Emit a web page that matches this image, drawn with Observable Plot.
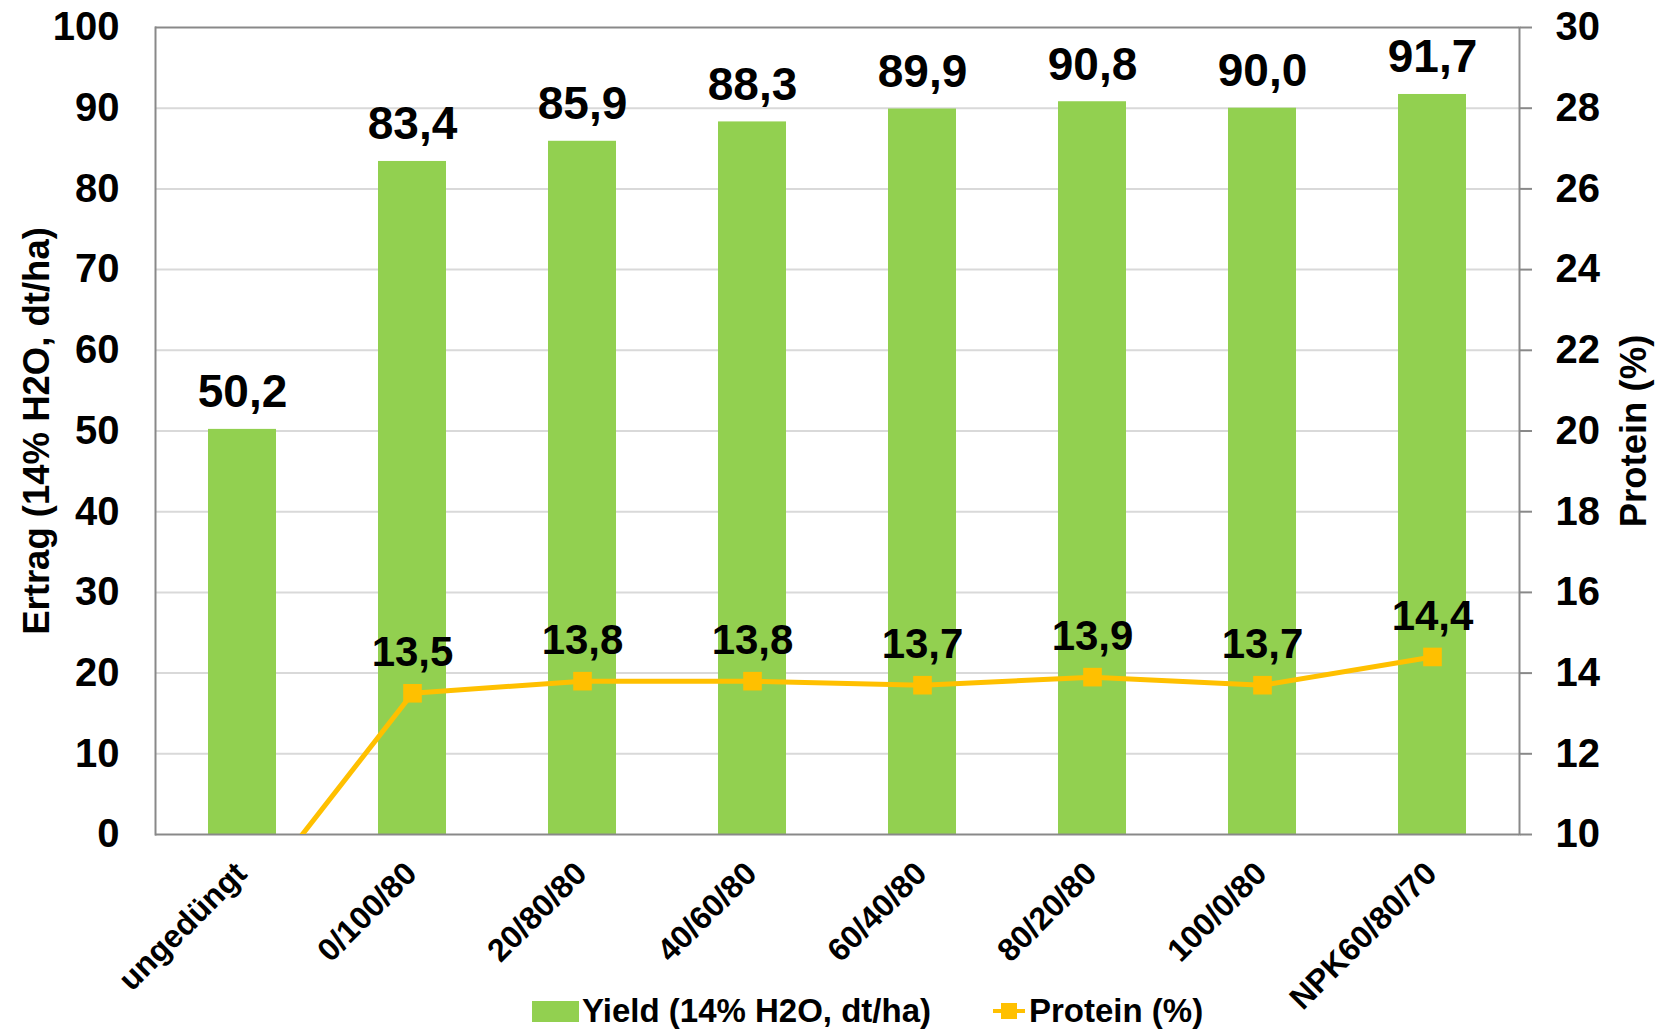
<!DOCTYPE html>
<html>
<head>
<meta charset="utf-8">
<script src="https://cdn.jsdelivr.net/npm/d3@7"></script>
<script src="https://cdn.jsdelivr.net/npm/@observablehq/plot@0.6"></script>
<style>
  body { margin: 0; background: #fff; font-family: "Liberation Sans", Arial, sans-serif; }
  #wrap { position: relative; width: 1663px; height: 1033px; overflow: hidden; }
  #legend { position: absolute; left: 0; top: 980px; width: 1663px; height: 53px; font-weight: bold; font-size: 33px; color: #000; }
  .sw { position: absolute; }
  .lt { position: absolute; line-height: 1; white-space: nowrap; }
</style>
</head>
<body>
<div id="wrap">
  <div id="chart"></div>
  <div id="legend"></div>
</div>
<script>
// ---- data ----
const categories = ["ungedüngt", "0/100/80", "20/80/80", "40/60/80", "60/40/80", "80/20/80", "100/0/80", "NPK60/80/70"];
const yieldValues = [50.2, 83.4, 85.9, 88.3, 89.9, 90.8, 90.0, 91.7];
const proteinValues = [8.1, 13.5, 13.8, 13.8, 13.7, 13.9, 13.7, 14.4];
const yieldTicks = [0, 10, 20, 30, 40, 50, 60, 70, 80, 90, 100];
const proteinTicks = [10, 12, 14, 16, 18, 20, 22, 24, 26, 28, 30];
const seriesNames = ["Yield (14% H2O, dt/ha)", "Protein (%)"];
const axisTitles = ["Ertrag (14% H2O, dt/ha)", "Protein (%)"];

const GREEN = "#92D050", ORANGE = "#FFC000", AXIS = "#898989", GRID = "#d9d9d9";

// secondary axis (protein 10–30) mapped onto primary domain (0–100)
const pMin = proteinTicks[0], pMax = proteinTicks[proteinTicks.length - 1];
const yMax = yieldTicks[yieldTicks.length - 1];
const toLeft = p => (p - pMin) / (pMax - pMin) * yMax;
const fromLeft = v => pMin + v / yMax * (pMax - pMin);
const fmt = v => v.toFixed(1).replace(".", ",");

const data = categories.map((c, i) => ({ cat: c, yield: yieldValues[i], protein: proteinValues[i] }));

const plot = Plot.plot({
  width: 1663,
  height: 980,
  marginLeft: 155,
  marginRight: 144,
  marginTop: 27,
  marginBottom: 146,
  style: { fontFamily: "'Liberation Sans', Arial, sans-serif", fontWeight: "bold", color: "#000", background: "#fff", overflow: "visible" },
  x: { domain: categories, paddingInner: 0.6, paddingOuter: 0.3, axis: null },
  y: { domain: [0, yMax], axis: null },
  marks: [
    Plot.gridY(yieldTicks.filter(t => t > 0 && t < yMax), { stroke: GRID, strokeOpacity: 1, strokeWidth: 2 }),
    Plot.ruleY([yMax], { stroke: AXIS, strokeWidth: 2 }),
    Plot.barY(data, { x: "cat", y: "yield", fill: GREEN }),
    Plot.ruleY([0], { stroke: AXIS, strokeWidth: 2 }),
    Plot.frame({ anchor: "left", stroke: AXIS, strokeWidth: 2 }),
    Plot.frame({ anchor: "right", stroke: AXIS, strokeWidth: 2 }),
    Plot.axisY({ anchor: "left", ticks: yieldTicks, tickSize: 0, tickPadding: 36, fontSize: 40, fill: "#000", label: null }),
    Plot.axisY({ anchor: "right", ticks: proteinTicks.map(toLeft), tickFormat: v => String(Math.round(fromLeft(v))), tickSize: 12, tickPadding: 24, fontSize: 40, stroke: AXIS, strokeWidth: 2, fill: "#000", label: null }),
    Plot.text(data, { x: "cat", y: "yield", text: d => fmt(d.yield), dy: -22, lineAnchor: "bottom", fontSize: 46, fill: "#000" }),
    Plot.line(data, { x: "cat", y: d => toLeft(d.protein), stroke: ORANGE, strokeWidth: 5, clip: "frame" }),
    Plot.dot(data, { x: "cat", y: d => toLeft(d.protein), symbol: "square", r: 10.5, fill: ORANGE, stroke: null, clip: "frame" }),
    Plot.text(data.filter(d => d.protein >= pMin), { x: "cat", y: d => toLeft(d.protein), text: d => fmt(d.protein), dy: -27, lineAnchor: "bottom", fontSize: 42, fill: "#000" }),
    Plot.text(categories, { x: d => d, frameAnchor: "bottom", dx: 6, dy: 41, rotate: -45, textAnchor: "end", lineAnchor: "bottom", fontSize: 32, fill: "#000" }),
    Plot.text([axisTitles[0]], { frameAnchor: "left", dx: -118, rotate: -90, textAnchor: "middle", fontSize: 36.5, fill: "#000" }),
    Plot.text([axisTitles[1]], { frameAnchor: "right", dx: 115, rotate: -90, textAnchor: "middle", fontSize: 36.5, fill: "#000" })
  ]
});
document.getElementById("chart").appendChild(plot);

// ---- legend (HTML, below the SVG) ----
const legend = document.getElementById("legend");
const cy = 31; // vertical centre inside legend box
legend.innerHTML = `
  <div class="sw" style="left:532px;top:${cy - 10}px;width:47px;height:21px;background:${GREEN}"></div>
  <div class="lt" style="left:582px;top:${cy - 17}px;">${seriesNames[0]}</div>
  <div class="sw" style="left:993px;top:${cy - 2}px;width:32px;height:4px;background:${ORANGE}"></div>
  <div class="sw" style="left:1001px;top:${cy - 8}px;width:16px;height:16px;background:${ORANGE}"></div>
  <div class="lt" style="left:1029px;top:${cy - 17}px;">${seriesNames[1]}</div>
`;
</script>
</body>
</html>
